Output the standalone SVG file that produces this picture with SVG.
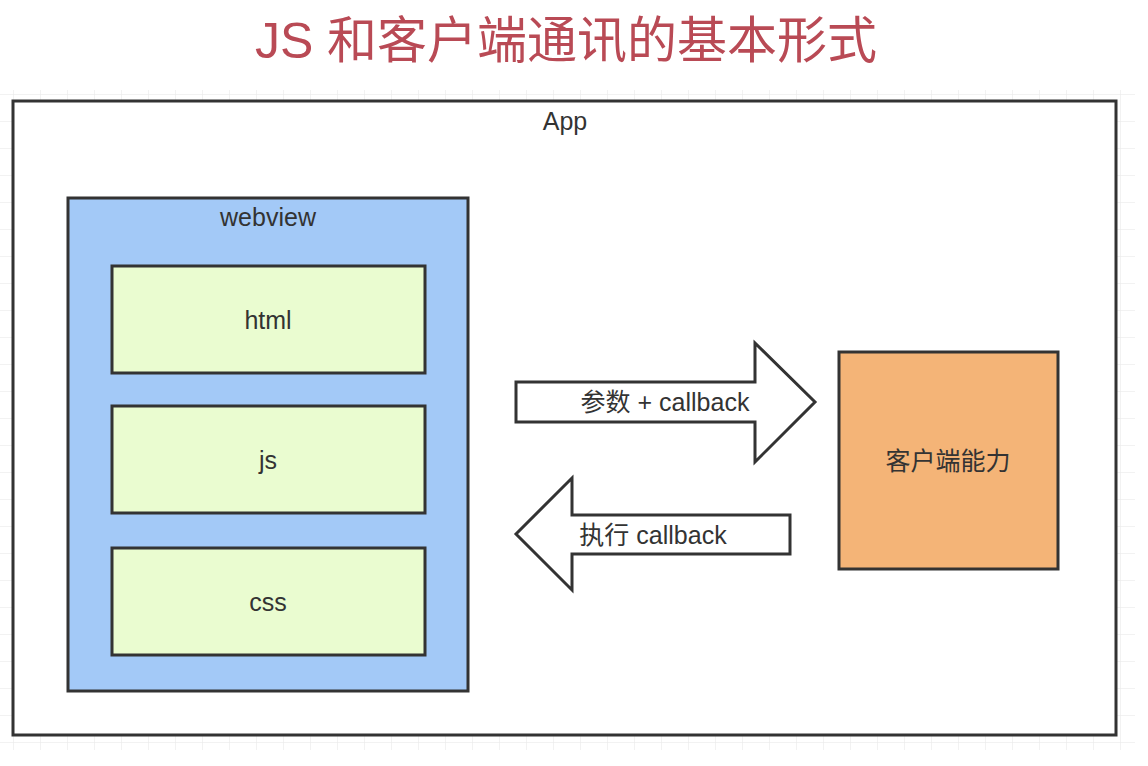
<svg xmlns="http://www.w3.org/2000/svg" width="1148" height="766" viewBox="0 0 1148 766">
<defs>
<pattern id="grid" x="13" y="13" width="27" height="27" patternUnits="userSpaceOnUse">
<path d="M0 0V27M0 0H27" fill="none" stroke="#e6e6e6" stroke-width="1"/>
</pattern>
<style>
.t{font-family:"Liberation Sans","Noto Sans CJK SC",sans-serif;fill:#333;font-size:25px;text-anchor:middle}
.b{stroke:#333;stroke-width:3}
</style>
</defs>
<rect width="1148" height="766" fill="#fff"/>
<rect x="0" y="90" width="1135" height="660" fill="url(#grid)"/>
<text x="566" y="58" font-family="Liberation Sans,Noto Sans CJK SC,sans-serif" font-size="50" fill="#b94a55" text-anchor="middle">JS 和客户端通讯的基本形式</text>
<g id="app"><rect class="b" x="13" y="101" width="1103" height="634" fill="#fff"/><text class="t" x="565" y="130">App</text></g>
<g id="webview"><rect class="b" x="68" y="198" width="400" height="493" fill="#a3c9f7"/><text class="t" x="268" y="226">webview</text></g>
<g id="html"><rect class="b" x="112" y="266" width="313" height="107" fill="#eafcd0"/><text class="t" x="268" y="329">html</text></g>
<g id="js"><rect class="b" x="112" y="406" width="313" height="107" fill="#eafcd0"/><text class="t" x="268" y="469">js</text></g>
<g id="css"><rect class="b" x="112" y="548" width="313" height="107" fill="#eafcd0"/><text class="t" x="268" y="611">css</text></g>
<g id="client"><rect class="b" x="839" y="352" width="219" height="217" fill="#f4b477"/><text class="t" x="948" y="470">客户端能力</text></g>
<g id="connectors">
<polygon class="b" points="516,382 755,382 755,343 815,402 755,462 755,422 516,422" fill="#fff"/>
<text class="t" x="665" y="411">参数 + callback</text>
<polygon class="b" points="790,515 572,515 572,478 516,534 572,590 572,554 790,554" fill="#fff"/>
<text class="t" x="653" y="544">执行 callback</text>
</g>
</svg>
